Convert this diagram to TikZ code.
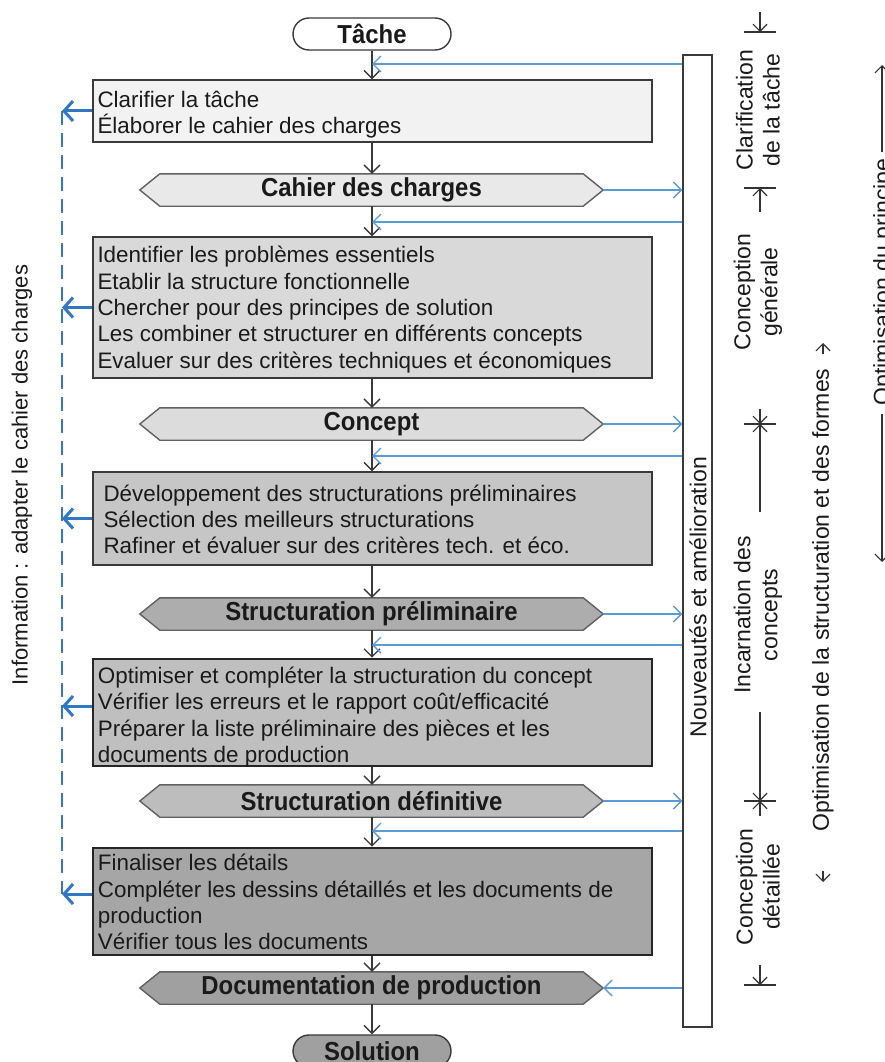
\documentclass[tikz,border=0pt]{standalone}
\usepackage{fontspec}
\setmainfont{Liberation Sans}
\newfontfamily\condbold[FakeStretch=0.92]{Liberation Sans Bold}
\usetikzlibrary{arrows.meta,backgrounds,calc}
\definecolor{blueA}{HTML}{5B9BD5}
\definecolor{blueB}{HTML}{2F78C4}
\definecolor{txt}{HTML}{1A1A1A}
\definecolor{edge}{HTML}{3A3A3A}
\definecolor{fillA}{HTML}{F2F2F2}
\definecolor{fillB}{HTML}{D9D9D9}
\definecolor{fillC}{HTML}{C6C6C6}
\definecolor{fillD}{HTML}{BFBFBF}
\definecolor{fillE}{HTML}{A6A6A6}
\definecolor{hexA}{HTML}{E9E9E9}
\definecolor{hexB}{HTML}{DCDCDC}
\definecolor{hexC}{HTML}{ADADAD}
\definecolor{hexD}{HTML}{BDBDBD}
\definecolor{hexE}{HTML}{A0A0A0}
\tikzset{
  stepbox/.style={draw=edge, line width=1.4pt, rectangle, minimum width=559pt, inner sep=0pt},
  heavybox/.style={stepbox, draw=black!85, line width=2.6pt},
  boxtext/.style={anchor=west, align=left, inner sep=0pt, font=\fontsize{22.4}{26.3}\selectfont, text=txt},
  hexlabel/.style={minimum width=463pt, minimum height=32pt, inner sep=0pt, font=\fontsize{26}{28}\condbold, text=txt},
  hexshape/.style={draw=black!62, line width=1.4pt},
  pill/.style={draw=edge, line width=1.4pt, rounded corners=16pt, minimum width=158pt, minimum height=32pt, inner sep=0pt, font=\fontsize{26}{28}\condbold, text=txt},
  flow/.style={draw=edge, line width=1.3pt, -{Straight Barb[length=8pt,width=16pt]}},
  fb/.style={draw=blueA, line width=1.4pt, -{Straight Barb[length=8pt,width=16pt]}},
  info/.style={draw=blueB, line width=3pt, -{Straight Barb[length=9pt,width=20pt]}},
  sidetext/.style={font=\fontsize{23}{27}\selectfont, text=txt, rotate=90, align=center, inner sep=0pt},
  marker/.style={draw=black!80, line width=1.2pt},
  markarrow/.style={marker, -{Straight Barb[length=7pt,width=14pt]}},
}
\begin{document}
\begin{tikzpicture}[x=1pt,y=-1pt]
\useasboundingbox (0,0) rectangle (884,1062);

% main flow
\node[pill, fill=white] (task) at (372,34) {Tâche};
\node[stepbox, fill=fillA, minimum height=62pt] (b1) at (372.5,111) {};
\node[boxtext] (b1t) at ([xshift=5pt,yshift=-4pt]b1.west) {Clarifier la tâche\\Élaborer le cahier des charges};
\node[hexlabel] (h1) at (371.5,190) {Cahier des charges};
\node[stepbox, fill=fillB, minimum height=141pt] (b2) at (372.5,307.5) {};
\node[boxtext] (b2t) at ([xshift=5pt,yshift=-2pt]b2.west) {Identifier les problèmes essentiels\\Etablir la structure fonctionnelle\\Chercher pour des principes de solution\\Les combiner et structurer en différents concepts\\Evaluer sur des critères techniques et économiques};
\node[hexlabel] (h2) at (371.5,424) {Concept};
\node[stepbox, fill=fillC, minimum height=93pt] (b3) at (372.5,518.5) {};
\node[boxtext] (b3t) at ([xshift=11pt,yshift=-1pt]b3.west) {Développement des structurations préliminaires\\Sélection des meilleurs structurations\\Rafiner et évaluer sur des critères tech. et éco.};
\node[hexlabel] (h3) at (371.5,614) {Structuration préliminaire};
\node[heavybox, fill=fillD, minimum height=107pt] (b4) at (372.5,712.5) {};
\node[boxtext] (b4t) at ([xshift=6pt,yshift=-4.5pt]b4.west) {Optimiser et compléter la structuration du concept\\Vérifier les erreurs et le rapport coût/efficacité\\Préparer la liste préliminaire des pièces et les\\documents de production};
\node[hexlabel] (h4) at (371.5,801) {Structuration définitive};
\node[heavybox, fill=fillE, minimum height=107pt] (b5) at (372.5,901.5) {};
\node[boxtext] (b5t) at ([xshift=6pt,yshift=-0.5pt]b5.west) {Finaliser les détails\\Compléter les dessins détaillés et les documents de\\production\\Vérifier tous les documents};
\node[hexlabel] (h5) at (371.5,988) {Documentation de production};
\node[pill, fill=hexE] (sol) at (372,1051) {Solution};

\begin{scope}[on background layer]
\fill[white] (0,0) rectangle (884,1062);
\foreach \h/\c in {h1/hexA,h2/hexB,h3/hexC,h4/hexD,h5/hexE}
  \filldraw[hexshape, fill=\c] (\h.west) -- ([xshift=20pt]\h.north west) -- ([xshift=-20pt]\h.north east) -- (\h.east) -- ([xshift=-20pt]\h.south east) -- ([xshift=20pt]\h.south west) -- cycle;
\end{scope}

% black connectors
\draw[flow] (task.south) -- (task.south |- b1.north);
\draw[flow] (b1.south -| task) -- (h1.north -| task);
\draw[flow] (h1.south -| task) -- (b2.north -| task);
\draw[flow] (b2.south -| task) -- (h2.north -| task);
\draw[flow] (h2.south -| task) -- (b3.north -| task);
\draw[flow] (b3.south -| task) -- (h3.north -| task);
\draw[flow] (h3.south -| task) -- (b4.north -| task);
\draw[flow] (b4.south -| task) -- (h4.north -| task);
\draw[flow] (h4.south -| task) -- (b5.north -| task);
\draw[flow] (b5.south -| task) -- (h5.north -| task);
\draw[flow] (h5.south -| task) -- (sol.north);

% innovation column
\node[draw=edge, line width=1.4pt, fill=white, minimum width=29pt, minimum height=972pt, inner sep=0pt] (nv) at (697.5,541) {};
\node[sidetext] (nvt) at (698,597) {Nouveautés et amélioration};

\coordinate (f1) at (372,64);
\coordinate (f2) at (372,222);
\coordinate (f3) at (372,456);
\coordinate (f4) at (372,645);
\coordinate (f5) at (372,831);
\foreach \f in {f1,f2,f3,f4,f5}
  \draw[fb] (nv.west |- \f) -- (\f);
\foreach \h in {h1,h2,h3,h4}
  \draw[fb] (\h.east) -- (\h.east -| nv.west);
\draw[fb] (h5.east -| nv.west) -- (h5.east);

% information feedback (left)
\coordinate (dl) at (62,0);
\draw[draw=blueB, line width=1.5pt, dash pattern=on 14pt off 8pt] (b1.west -| dl) -- ([yshift=7.5pt]b5.west -| dl);
\draw[info] (b1.west) -- (b1.west -| dl);
\draw[info] (b2.west) -- (b2.west -| dl);
\draw[info] (b3.west) -- (b3.west -| dl);
\draw[info] ([yshift=6.5pt]b4.west) -- ([yshift=6.5pt]b4.west -| dl);
\draw[info] ([yshift=7.5pt]b5.west) -- ([yshift=7.5pt]b5.west -| dl);
\node[sidetext, font=\fontsize{22}{26}\selectfont] (info) at (22,475) {Information : adapter le cahier des charges};

% phase column
\coordinate (m0) at (760,32);
\coordinate (m1) at (760,188);
\coordinate (m2) at (760,424);
\coordinate (m3) at (760,801);
\coordinate (m4) at (760,985);
\foreach \m in {m0,m1,m2,m3,m4}
  \draw[marker] ([xshift=-16pt]\m) -- ([xshift=16pt]\m);
\draw[markarrow] (760,12) -- (m0);
\draw[markarrow] (760,212) -- (m1);
\draw[markarrow] (760,409) -- (m2);
\draw[markarrow] (760,512) -- (m2);
\draw[markarrow] (760,712) -- (m3);
\draw[markarrow] (760,816) -- (m3);
\draw[markarrow] (760,965) -- (m4);
\node[sidetext] (l1) at (758,110) {Clarification\\de la tâche};
\node[sidetext] (l2) at (758,292) {Conception\\générale};
\node[sidetext] (l3) at (758,615) {Incarnation des\\concepts};
\node[sidetext] (l4) at (758,887) {Conception\\détaillée};

% optimisation columns
\node[sidetext] (l5) at (823,600) {Optimisation de la structuration et des formes};
\draw[markarrow] (823,354) -- (823,343);
\draw[markarrow] (823,871) -- (823,882);
\node[sidetext] (l6) at (884,282) {Optimisation du principe};
\draw[markarrow] (882,152) -- (882,65);
\draw[markarrow] (882,414) -- (882,562);
\end{tikzpicture}
\end{document}
